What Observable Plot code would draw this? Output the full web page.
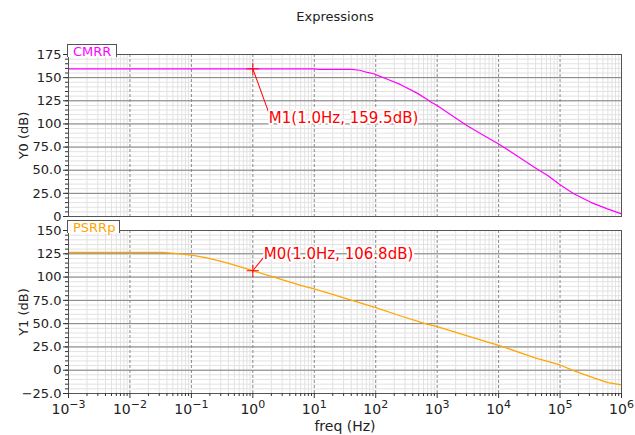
<!DOCTYPE html>
<html><head><meta charset="utf-8">
<script src="https://cdn.jsdelivr.net/npm/d3@7"></script>
<script src="https://cdn.jsdelivr.net/npm/@observablehq/plot@0.6"></script>
<style>
body{margin:0;background:#fff;}
#wrap{position:relative;width:635px;height:435px;font-family:"DejaVu Sans",sans-serif;overflow:hidden;background:#fff}
#title{position:absolute;top:9px;left:0;width:670px;text-align:center;font-size:13px;color:#222}
.tab{position:absolute;height:13px;border:1px solid #555;border-bottom:none;background:#fff;font-size:13px;line-height:13px;padding-left:5px;box-sizing:border-box;white-space:nowrap}
.plot{position:absolute;left:0}
</style></head>
<body><div id="wrap">
<div class="plot" id="p1" style="top:30px"></div>
<div class="plot" id="p2" style="top:216px"></div>
<div id="title">Expressions</div>
<div class="tab" id="tab1" style="left:67px;top:44px;width:50px;"></div>
<div class="tab" id="tab2" style="left:67px;top:220px;width:53px;"></div>
</div>
<script>
// ---- data ----
const decades = [1e-3, 1e-2, 1e-1, 1e0, 1e1, 1e2, 1e3, 1e4, 1e5, 1e6];
const xTickLabels = ["10⁻³", "10⁻²", "10⁻¹", "10⁰", "10¹", "10²", "10³", "10⁴", "10⁵", "10⁶"];
const yTicksTop = [0, 25, 50, 75, 100, 125, 150, 175];
const yTicksBottom = [-25, 0, 25, 50, 75, 100, 125, 150];

const cmrrName = "CMRR";
const cmrrFreq = [1e-3, 1e-2, 1e-1, 1, 10, 12, 40, 55, 73, 93, 100, 155, 255, 480, 690, 787, 1000, 1660, 3090, 5750, 10000, 20400, 38000, 63000, 100000, 170000, 316000, 590000, 1000000];
const cmrrDb   = [159.5, 159.5, 159.5, 159.5, 159.5, 159.0, 158.9, 158.0, 155.6, 154.2, 153.3, 148.3, 142.4, 133.0, 126.3, 123.6, 119.8, 109.8, 98.0, 87.4, 78.4, 65.2, 53.2, 44.3, 34.2, 24.3, 15.3, 8.2, 2.9];

const psrrName = "PSRRp";
const psrrFreq = [1e-3, 0.01, 0.035, 0.071, 0.1, 0.18, 0.38, 1, 2.2, 6, 10, 21, 45, 100, 257, 617, 1000, 3090, 10000, 38000, 100000, 170000, 363000, 600000, 1000000];
const psrrDb   = [126.5, 126.5, 126.5, 124.6, 123.6, 120.7, 115.3, 106.8, 100.0, 91.1, 87.2, 81.0, 74.3, 67.1, 58.2, 50.4, 46.7, 36.8, 26.8, 13.5, 5.6, -0.8, -8.6, -13.3, -15.8];

const markerNames = ["M1", "M0"];
const markerFreq = [1.0, 1.0];
const markerDb = [159.5, 106.8];

// ---- helpers ----
const tickLabelOf = new Map(decades.map((d, i) => [d, xTickLabels[i]]));
const minorX = decades.slice(0, -1).flatMap(d => [2,3,4,5,6,7,8,9].map(k => k * d));
const minorY1 = d3.range(0, 176, 5);
const minorY2 = d3.range(-25, 151, 5);
const fmtY = v => v === 0 ? "0" : Math.abs(v) < 100 ? (v < 0 ? "−" : "") + Math.abs(v).toFixed(1) : String(v);
const cmrr = cmrrFreq.map((f, i) => ({f, v: cmrrDb[i]}));
const psrr = psrrFreq.map((f, i) => ({f, v: psrrDb[i]}));
const mk = i => [{f: markerFreq[i], v: markerDb[i], label: `${markerNames[i]}(${markerFreq[i].toFixed(1)}Hz, ${markerDb[i].toFixed(1)}dB)`}];

document.getElementById("tab1").textContent = cmrrName;
document.getElementById("tab1").style.color = "#ff00ff";
document.getElementById("tab2").textContent = psrrName;
document.getElementById("tab2").style.color = "#ffa500";

const common = {
  width: 635, marginLeft: 68, marginRight: 14,
  style: {fontFamily: "DejaVu Sans, sans-serif", fontSize: "13px", color: "#222", background: "transparent", overflow: "visible"}
};
const gridMarks = (minorY, majorY) => [
  Plot.ruleX(minorX, {stroke: "#e2e2e2", strokeWidth: 1}),
  Plot.ruleY(minorY, {stroke: "#e2e2e2", strokeWidth: 1}),
  Plot.ruleX(decades, {stroke: "#8a8a8a", strokeDasharray: "3,2", strokeWidth: 1}),
  Plot.ruleY(majorY, {stroke: "#808080", strokeWidth: 1})
];
const markerMarks = (i, len, rot, dx, dy) => [
  Plot.vector(mk(i), {x: "f", y: "v", length: len, rotate: rot, anchor: "start", shape: "spike", r: 0, stroke: "#ff0000", fill: "none", strokeWidth: 1}),
  Plot.dot(mk(i), {x: "f", y: "v", symbol: "plus", r: 4, stroke: "#ff0000", strokeWidth: 1}),
  Plot.text(mk(i), {x: "f", y: "v", text: "label", dx, dy, textAnchor: "start", lineAnchor: "middle", fill: "#ff0000", stroke: "white", strokeWidth: 4, fontSize: 15})
];

const p1 = Plot.plot({
  ...common, height: 192, marginTop: 24, marginBottom: 6,
  x: {type: "log", domain: [1e-3, 1e6], axis: null},
  y: {domain: [0, 175], axis: null},
  marks: [
    ...gridMarks(minorY1, yTicksTop),
    Plot.line(cmrr, {x: "f", y: "v", stroke: "#ff00ff", strokeWidth: 1.2}),
    Plot.frame({stroke: "#555"}),
    Plot.axisY(minorY1, {tickSize: 3, tickFormat: () => "", label: null, stroke: "#333"}),
    Plot.axisY(yTicksTop, {tickSize: 5, tickPadding: 2, tickFormat: fmtY, label: "Y0 (dB)", labelAnchor: "center", labelArrow: "none", labelOffset: 50, stroke: "#333"}),
    ...markerMarks(0, 46, 160, 16, 49.5)
  ]
});
document.getElementById("p1").append(p1);

const p2 = Plot.plot({
  ...common, height: 219, marginTop: 14, marginBottom: 42,
  x: {type: "log", domain: [1e-3, 1e6], axis: null},
  y: {domain: [-25, 150], axis: null},
  marks: [
    ...gridMarks(minorY2, yTicksBottom),
    Plot.line(psrr, {x: "f", y: "v", stroke: "#ffa500", strokeWidth: 1.3}),
    Plot.frame({stroke: "#555"}),
    Plot.axisY(minorY2, {tickSize: 3, tickFormat: () => "", label: null, stroke: "#333"}),
    Plot.axisY(yTicksBottom, {tickSize: 5, tickPadding: 2, tickFormat: fmtY, label: "Y1 (dB)", labelAnchor: "center", labelArrow: "none", labelOffset: 50, stroke: "#333"}),
    Plot.axisX(minorX, {tickSize: 3, tickFormat: () => "", label: null, stroke: "#333"}),
    Plot.axisX(decades, {tickSize: 5, tickPadding: 6, fontSize: 14, tickFormat: d => tickLabelOf.get(d), label: "freq (Hz)", labelAnchor: "center", labelArrow: "none", labelOffset: 37, stroke: "#333"}),
    ...markerMarks(1, 18.4, 39, 11, -16.7)
  ]
});
document.getElementById("p2").append(p2);

// render the exponent of each decade label as a raised, smaller tspan
const supBack = {"⁻": "−", "⁰": "0", "¹": "1", "²": "2", "³": "3", "⁴": "4", "⁵": "5", "⁶": "6"};
p2.querySelectorAll("text").forEach(t => {
  const s = t.textContent;
  if (/^10[⁻⁰¹²³⁴⁵⁶]+$/.test(s)) {
    const exp = [...s.slice(2)].map(c => supBack[c]).join("");
    while (t.firstChild) t.removeChild(t.firstChild);
    const ns = "http://www.w3.org/2000/svg";
    t.appendChild(document.createTextNode("10"));
    const ts = document.createElementNS(ns, "tspan");
    ts.setAttribute("dy", "-6");
    ts.setAttribute("font-size", "11");
    ts.textContent = exp;
    t.appendChild(ts);
  }
});
</script>
</body></html>
